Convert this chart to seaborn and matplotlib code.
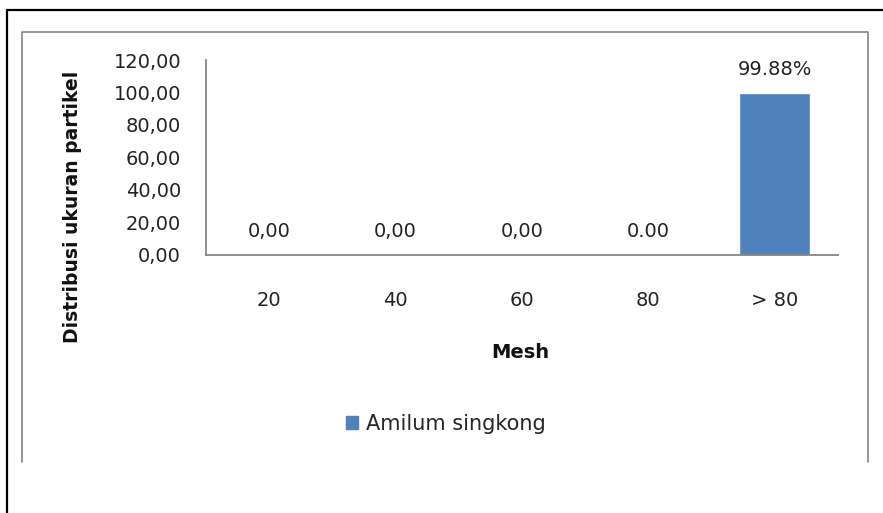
import matplotlib
matplotlib.use("Agg")
import matplotlib.pyplot as plt
from matplotlib.lines import Line2D
from matplotlib.patches import Patch
from matplotlib.ticker import FuncFormatter
import seaborn as sns

mesh = ["20", "40", "60", "80", "> 80"]
distribusi = [0.0, 0.0, 0.0, 0.0, 99.88]
value_labels = ["0,00", "0,00", "0,00", "0.00", "99.88%"]
y_ticks = [0, 20, 40, 60, 80, 100, 120]
series_name = "Amilum singkong"

sns.set_style("white")
plt.rcParams["font.family"] = ["DejaVu Sans"]

W, H = 883, 513
fig = plt.figure(figsize=(W / 100, H / 100), dpi=100)

# frames: outer black (top + left), inner gray chart area (no bottom edge)
fig.add_artist(Line2D([7 / W, 1], [1 - 9.5 / H, 1 - 9.5 / H], color="black", lw=1.6))
fig.add_artist(Line2D([7.5 / W, 7.5 / W], [0, 1 - 9.5 / H], color="black", lw=1.6))
fig.add_artist(Line2D([21.5 / W, 21.5 / W, 868 / W, 868 / W],
                      [1 - 462 / H, 1 - 32 / H, 1 - 32 / H, 1 - 462 / H],
                      color="#8c8c8c", lw=1.3))

ax = fig.add_axes([206 / W, 1 - 255 / H, 632 / W, 195 / H])
bar_color = "#4f81bd"
sns.barplot(x=mesh, y=distribusi, color=bar_color, saturation=1, width=0.56,
            errorbar=None, ax=ax)

fs = 14
ax.set_ylim(0, 120)
ax.set_yticks(y_ticks)
ax.yaxis.set_major_formatter(FuncFormatter(lambda v, p: f"{v:.2f}".replace(".", ",")))
ax.tick_params(axis="y", length=0, pad=18, labelsize=fs, labelcolor="#222222")
ax.tick_params(axis="x", length=0, pad=26, labelsize=fs, labelcolor="#222222")
sns.despine(ax=ax, top=True, right=True)
for s in ("left", "bottom"):
    ax.spines[s].set_color("#868686")
    ax.spines[s].set_linewidth(1.3)
ax.set_xlabel("")
ax.set_ylabel("")

ax.bar_label(ax.containers[0], labels=value_labels, padding=10, fontsize=fs, color="#222222")

fig.text(73 / W, 1 - 207 / H, "Distribusi ukuran partikel", rotation=90,
         ha="center", va="center", fontsize=13.5, fontweight="bold", color="#111111")
fig.text(520 / W, 1 - 352 / H, "Mesh", ha="center", va="center",
         fontsize=14, fontweight="bold", color="#111111")

fig.legend(handles=[Patch(color=bar_color, label=series_name)], loc="center",
           bbox_to_anchor=(446 / W, 1 - 424 / H), frameon=False, fontsize=15,
           handlelength=0.55, handleheight=0.55, handletextpad=0.4)

fig.savefig("out.png", dpi=100)
